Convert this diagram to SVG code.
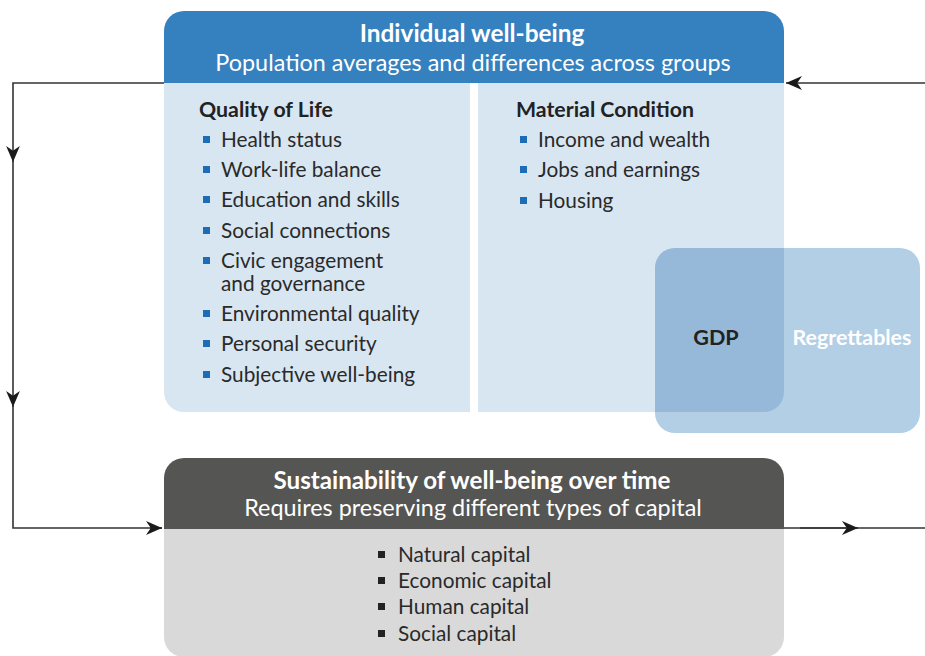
<svg xmlns="http://www.w3.org/2000/svg" width="925" height="656" viewBox="0 0 925 656">
<style>
text{font-family:Lato,"Open Sans","Liberation Sans",sans-serif;}
.hd{fill:#fff;text-anchor:middle;}
.hb{font-weight:bold;}
.sub{font-weight:bold;fill:#222;font-size:21.3px;}
.it{fill:#2a2a2a;font-size:20.8px;}
.bl{fill:#1d6db6;}
.bk{fill:#222;}
.cn{fill:none;stroke:#333;stroke-width:1.6;}
</style>
<defs>
<marker id="ah" viewBox="0 0 10 10" refX="10" refY="5" markerWidth="16" markerHeight="16" markerUnits="userSpaceOnUse" orient="auto">
<path d="M0,0.7 L10,5 L0,9.3 L3,5 Z" fill="#1a1a1a"/>
</marker>
</defs>
<g id="connectors">
<path class="cn" d="M164,83 H13 V162" marker-end="url(#ah)"/>
<path class="cn" d="M13,160 V407" marker-end="url(#ah)"/>
<path class="cn" d="M13,405 V528 H162"/>
<path class="cn" d="M150,528 H162" marker-end="url(#ah)"/>
<path class="cn" d="M925,83 H786" marker-end="url(#ah)"/>
<path class="cn" d="M784,528 H925"/>
<path class="cn" d="M800,528 H858" marker-end="url(#ah)"/>
</g>
<g id="individual">
<path d="M184,11 H764 A20,20 0 0 1 784,31 V83 H164 V31 A20,20 0 0 1 184,11 Z" fill="#3580be"/>
<path d="M164,83 H470 V412 H184 A20,20 0 0 1 164,392 Z" fill="#d8e6f2"/>
<path d="M478,83 H784 V392 A20,20 0 0 1 764,412 H478 Z" fill="#d8e6f2"/>
<text class="hd hb" x="472" y="42" font-size="24.4">Individual well-being</text>
<text class="hd" x="473" y="71" font-size="23.4">Population averages and differences across groups</text>
</g>
<g id="quality-of-life">
<text class="sub" x="199" y="117">Quality of Life</text>
<rect class="bl" x="203" y="136" width="7" height="7"/><text class="it" x="221" y="147">Health status</text>
<rect class="bl" x="203" y="166" width="7" height="7"/><text class="it" x="221" y="177">Work-life balance</text>
<rect class="bl" x="203" y="196" width="7" height="7"/><text class="it" x="221" y="207">Education and skills</text>
<rect class="bl" x="203" y="227" width="7" height="7"/><text class="it" x="221" y="238">Social connections</text>
<rect class="bl" x="203" y="257" width="7" height="7"/><text class="it" x="221" y="268">Civic engagement</text>
<text class="it" x="221" y="291">and governance</text>
<rect class="bl" x="203" y="310" width="7" height="7"/><text class="it" x="221" y="321">Environmental quality</text>
<rect class="bl" x="203" y="340" width="7" height="7"/><text class="it" x="221" y="351">Personal security</text>
<rect class="bl" x="203" y="371" width="7" height="7"/><text class="it" x="221" y="382">Subjective well-being</text>
</g>
<g id="material-condition">
<text class="sub" x="516" y="117">Material Condition</text>
<rect class="bl" x="520" y="136" width="7" height="7"/><text class="it" x="538" y="147">Income and wealth</text>
<rect class="bl" x="520" y="166" width="7" height="7"/><text class="it" x="538" y="177">Jobs and earnings</text>
<rect class="bl" x="520" y="197" width="7" height="7"/><text class="it" x="538" y="208">Housing</text>
</g>
<g id="gdp">
<rect x="655" y="248" width="265" height="185" rx="20" fill="#b3cfe6"/>
<path d="M675,248 H784 V392 A20,20 0 0 1 764,412 H655 V268 A20,20 0 0 1 675,248 Z" fill="#97b9d9"/>
<text x="716" y="345" font-size="21.6" font-weight="bold" fill="#222" text-anchor="middle">GDP</text>
<text x="852" y="345" font-size="21.4" font-weight="bold" fill="#fff" text-anchor="middle">Regrettables</text>
</g>
<g id="sustainability">
<path d="M184,458 H764 A20,20 0 0 1 784,478 V529 H164 V478 A20,20 0 0 1 184,458 Z" fill="#555553"/>
<path d="M164,529 H784 V637 A20,20 0 0 1 764,657 H184 A20,20 0 0 1 164,637 Z" fill="#d9d9d9"/>
<text class="hd hb" x="472" y="489" font-size="24.2">Sustainability of well-being over time</text>
<text class="hd" x="473" y="516" font-size="23.4">Requires preserving different types of capital</text>
<rect class="bk" x="378" y="551" width="7" height="7"/><text class="it" x="398" y="562">Natural capital</text>
<rect class="bk" x="378" y="577" width="7" height="7"/><text class="it" x="398" y="588">Economic capital</text>
<rect class="bk" x="378" y="603" width="7" height="7"/><text class="it" x="398" y="614">Human capital</text>
<rect class="bk" x="378" y="630" width="7" height="7"/><text class="it" x="398" y="641">Social capital</text>
</g>
</svg>
